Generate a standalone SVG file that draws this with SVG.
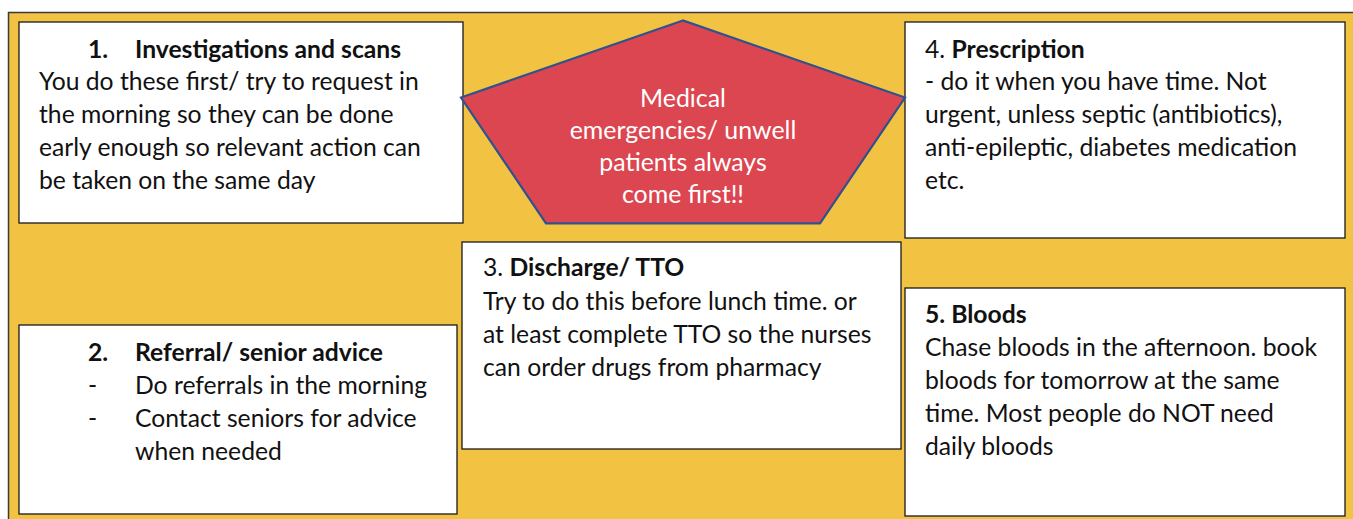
<svg xmlns="http://www.w3.org/2000/svg" width="1353" height="519" viewBox="0 0 1353 519">
  <style>
    .card { fill: #ffffff; stroke: #1a1a1a; stroke-width: 1.3; }
    .txt { font-family: Lato, "Liberation Sans", sans-serif; font-size: 24.7px; fill: #111111; }
    .b { font-weight: bold; }
    .alert { font-family: Lato, "Liberation Sans", sans-serif; font-size: 24.9px; fill: #ffffff; text-anchor: middle; }
  </style>
  <rect x="0" y="0" width="1353" height="519" fill="#ffffff"/>
  <!-- yellow panel -->
  <rect id="panel" x="8.5" y="12.5" width="1360" height="520" fill="#F2C242" stroke="#3a3a3a" stroke-width="1.5"/>

  <g id="connectors"></g>

  <g id="node-investigations">
    <rect class="card" x="19" y="22" width="444" height="201"/>
    <text class="txt b" y="58"><tspan x="88">1.</tspan><tspan x="135">Investigations and scans</tspan></text>
    <text class="txt" x="39" y="90">You do these first/ try to request in</text>
    <text class="txt" x="39" y="123">the morning so they can be done</text>
    <text class="txt" x="39" y="156">early enough so relevant action can</text>
    <text class="txt" x="39" y="189">be taken on the same day</text>
  </g>

  <g id="node-prescription">
    <rect class="card" x="905" y="22" width="440" height="216"/>
    <text class="txt" x="925" y="58">4. <tspan class="b">Prescription</tspan></text>
    <text class="txt" x="925" y="90">- do it when you have time. Not</text>
    <text class="txt" x="925" y="123">urgent, unless septic (antibiotics),</text>
    <text class="txt" x="925" y="156">anti-epileptic, diabetes medication</text>
    <text class="txt" x="925" y="189">etc.</text>
  </g>

  <g id="node-emergencies">
    <polygon points="683,20.5 461,97.5 546,223.3 820,223.3 905,97.5" fill="#DC4650" stroke="#2F528F" stroke-width="2.2" stroke-linejoin="miter"/>
    <text class="alert" x="683" y="107">Medical</text>
    <text class="alert" x="683" y="139">emergencies/ unwell</text>
    <text class="alert" x="683" y="171">patients always</text>
    <text class="alert" x="683" y="203">come first!!</text>
  </g>

  <g id="node-discharge">
    <rect class="card" x="462" y="242" width="439" height="207"/>
    <text class="txt" x="483" y="276">3. <tspan class="b">Discharge/ TTO</tspan></text>
    <text class="txt" x="483" y="310">Try to do this before lunch time. or</text>
    <text class="txt" x="483" y="343">at least complete TTO so the nurses</text>
    <text class="txt" x="483" y="376">can order drugs from pharmacy</text>
  </g>

  <g id="node-referral">
    <rect class="card" x="19" y="325" width="438" height="189"/>
    <text class="txt b" y="361"><tspan x="88">2.</tspan><tspan x="135">Referral/ senior advice</tspan></text>
    <text class="txt" x="88" y="394">-</text>
    <text class="txt" x="135" y="394">Do referrals in the morning</text>
    <text class="txt" x="88" y="427">-</text>
    <text class="txt" x="135" y="427">Contact seniors for advice</text>
    <text class="txt" x="135" y="460">when needed</text>
  </g>

  <g id="node-bloods">
    <rect class="card" x="905" y="288" width="440" height="228"/>
    <text class="txt b" x="925" y="323">5. Bloods</text>
    <text class="txt" x="925" y="356">Chase bloods in the afternoon. book</text>
    <text class="txt" x="925" y="389">bloods for tomorrow at the same</text>
    <text class="txt" x="925" y="422">time. Most people do NOT need</text>
    <text class="txt" x="925" y="455">daily bloods</text>
  </g>
</svg>
